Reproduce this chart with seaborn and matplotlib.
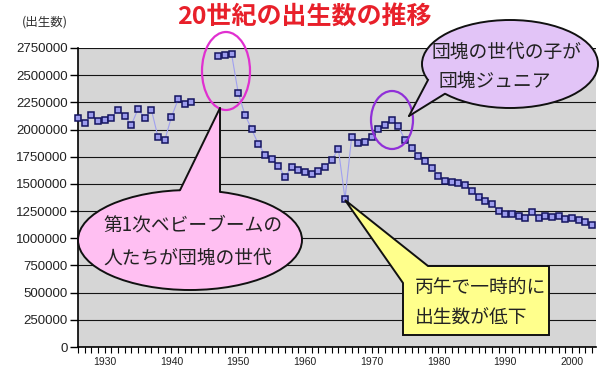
import matplotlib
matplotlib.use("Agg")
import matplotlib.pyplot as plt
import numpy as np
import pandas as pd
import seaborn as sns
from matplotlib.patches import Ellipse, Polygon
from matplotlib.ticker import MultipleLocator
from matplotlib.lines import Line2D

# ---------------- data ----------------
years_prewar = list(range(1926, 1944))
births_prewar = [2104000, 2061000, 2136000, 2077000, 2085000, 2103000, 2183000,
                 2121000, 2044000, 2191000, 2102000, 2181000, 1928000, 1902000,
                 2116000, 2277000, 2234000, 2254000]
years_postwar = list(range(1947, 2004))
births_postwar = [2679000, 2682000, 2697000, 2338000, 2138000, 2005000, 1868000,
                  1770000, 1731000, 1665000, 1567000, 1653000, 1626000, 1606000,
                  1589000, 1619000, 1660000, 1717000, 1824000, 1361000, 1936000,
                  1872000, 1890000, 1934000, 2001000, 2039000, 2092000, 2030000,
                  1901000, 1833000, 1755000, 1709000, 1643000, 1577000, 1529000,
                  1515000, 1509000, 1490000, 1432000, 1383000, 1347000, 1314000,
                  1247000, 1222000, 1223000, 1209000, 1188000, 1238000, 1187000,
                  1207000, 1192000, 1203000, 1178000, 1191000, 1171000, 1154000,
                  1124000]
y_ticks = [0, 250000, 500000, 750000, 1000000, 1250000, 1500000, 1750000,
           2000000, 2250000, 2500000, 2750000]
x_ticks = [1930, 1940, 1950, 1960, 1970, 1980, 1990, 2000]

title_text = "20世紀の出生数の推移"
unit_text = "(出生数)"
note_boom = ["第1次ベビーブームの", "人たちが団塊の世代"]
note_junior = ["団塊の世代の子が", "団塊ジュニア"]
note_hinoe = ["丙午で一時的に", "出生数が低下"]

# ---------------- style ----------------
sns.set_theme(style="white")
plt.rcParams['font.family'] = ['Noto Sans CJK JP', 'DejaVu Sans']

W, H = 600, 373
fig = plt.figure(figsize=(W / 100, H / 100), dpi=100)
fig.patch.set_facecolor('white')

L, R, T, B = 78, 596, 48, 347
ax = fig.add_axes([L / W, 1 - B / H, (R - L) / W, (B - T) / H])
ax.set_facecolor('#d6d6d6')

df_pre = pd.DataFrame({'year': years_prewar, 'births': births_prewar})
df_post = pd.DataFrame({'year': years_postwar, 'births': births_postwar})
line_kw = dict(color='#a0a0f0', linewidth=0.8, marker='s', markersize=5,
               markerfacecolor='#9c9cee', markeredgecolor='#141460',
               markeredgewidth=1.1, clip_on=False, zorder=3)
for d in (df_pre, df_post):
    sns.lineplot(data=d, x='year', y='births', ax=ax, **line_kw)

ax.set_xlim(1926, 2003.6)
ax.set_ylim(0, 2750000)
ax.set_xlabel('')
ax.set_ylabel('')
ax.set_yticks(y_ticks, labels=[str(v) for v in y_ticks],
              fontfamily='Liberation Sans', fontsize=9.5, color='#222222')
ax.set_xticks(x_ticks, labels=[str(v) for v in x_ticks],
              fontfamily='Liberation Sans', fontsize=7.5, color='#222222')
ax.xaxis.set_minor_locator(MultipleLocator(1))
ax.tick_params(axis='y', which='major', left=True, direction='out', length=6,
               width=1, color='black', pad=1.5)
ax.tick_params(axis='x', which='both', bottom=True, direction='out', length=4,
               width=0.8, color='black', pad=3)
ax.set_axisbelow(True)
ax.yaxis.grid(True, color='#151515', linewidth=0.8)
ax.xaxis.grid(False)
for s in ('top', 'right'):
    ax.spines[s].set_visible(False)
for s in ('left', 'bottom'):
    ax.spines[s].set_color('black')
    ax.spines[s].set_linewidth(1.2)

# ---------------- overlay for annotations (pixel coords) ----------------
ov = fig.add_axes([0, 0, 1, 1])
ov.set_xlim(0, W)
ov.set_ylim(H, 0)
ov.axis('off')
ov.patch.set_alpha(0)
ov.set_zorder(5)

ov.text(304, 17, title_text, ha='center', va='center', fontsize=18,
        fontweight='bold', color='#e8202a')
ov.text(45, 22, unit_text, ha='center', va='center', fontsize=9,
        color='#333333')

# circles around data
ov.add_patch(Ellipse((226, 71), 48, 78, fill=False, edgecolor='#e030d0', lw=1.6))
ov.add_patch(Ellipse((392, 120), 42, 58, fill=False, edgecolor='#9030d8', lw=1.6))


def bubble(cx, cy, a, b, tip, base1, base2, inner, fc):
    ov.add_patch(Ellipse((cx, cy), 2 * a, 2 * b, facecolor=fc,
                         edgecolor='#111111', lw=1.4, zorder=1))
    ov.add_patch(Polygon([tip, base1] + inner + [base2], closed=True,
                         facecolor=fc, edgecolor='none', zorder=2))
    for bp in (base1, base2):
        ov.add_line(Line2D([tip[0], bp[0]], [tip[1], bp[1]], color='#111111',
                           lw=1.4, zorder=3))


# pink bubble (baby boom)
bubble(190, 240, 112, 50, (220, 108), (180, 190.2), (220, 191.8),
       [(180, 198), (220, 198)], '#ffbff2')
ov.text(192.5, 225, note_boom[0], ha='center', va='center', fontsize=13.5,
        color='#222222', zorder=4)
ov.text(187.5, 258, note_boom[1], ha='center', va='center', fontsize=13.5,
        color='#222222', zorder=4)

# lavender bubble (junior)
bubble(510, 64, 88, 44, (409, 116), (428, 80), (445, 93.7),
       [(438, 78), (452, 88)], '#e2c4f7')
ov.text(506.5, 52, note_junior[0], ha='center', va='center', fontsize=13.5,
        color='#222222', zorder=4)
ov.text(494.5, 82, note_junior[1], ha='center', va='center', fontsize=13.5,
        color='#222222', zorder=4)

# yellow callout (hinoeuma)
ov.add_patch(Polygon([(345, 200), (428, 266), (549, 266), (549, 335),
                      (403, 335), (403, 283)], closed=True,
                     facecolor='#ffff8c', edgecolor='#111111', lw=1.4))
ov.text(415, 287, note_hinoe[0], ha='left', va='center', fontsize=13.5,
        color='#222222')
ov.text(415, 318, note_hinoe[1], ha='left', va='center', fontsize=13.5,
        color='#222222')

fig.savefig('out.png', dpi=100)
